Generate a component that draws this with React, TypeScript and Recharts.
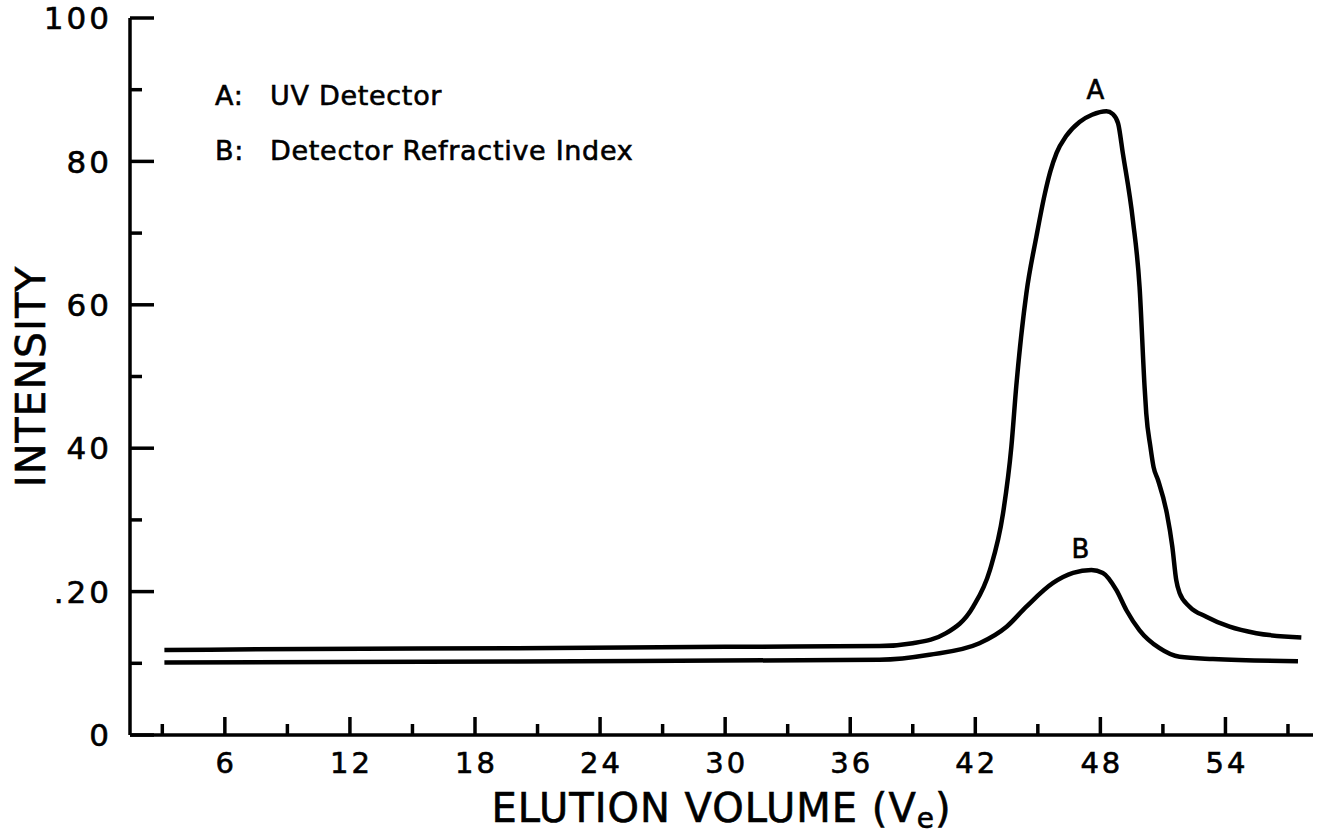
import React from 'react';
import { LineChart, Line, XAxis, YAxis, Legend, Label } from 'recharts';

// ---- data ----
const seriesKeys = ['A', 'B'];
const seriesNames = ['UV Detector', 'Detector Refractive Index'];

const uvVolume = [3.1, 10, 20, 30, 37.4, 39.0, 40.6, 41.9, 42.7, 43.33, 43.73, 43.97, 44.45, 44.93, 45.33, 45.6, 45.9, 46.35, 47.0, 47.6, 48.29, 48.6, 48.85, 49.08, 49.56, 49.88, 50.12, 50.2, 50.4, 50.55, 50.76, 51.19, 51.45, 51.64, 51.8, 52.28, 53.08, 54.2, 55.48, 57.64];
const uvIntensity = [11.85, 12.0, 12.1, 12.3, 12.4, 12.8, 14.2, 17.9, 23.0, 30.9, 40.2, 48.8, 61.6, 69.5, 75.4, 78.6, 81.2, 83.5, 85.5, 86.5, 87.0, 86.6, 85.3, 81.1, 71.8, 62.5, 48.6, 44.9, 40.2, 37.4, 35.6, 30.9, 26.3, 21.6, 19.8, 17.9, 16.5, 15.1, 14.2, 13.6];

const riVolume = [3.1, 20, 37.4, 39.8, 42.2, 43.5, 44.45, 45.73, 46.69, 47.57, 48.12, 48.77, 49.25, 49.88, 50.84, 51.8, 53.4, 57.48];
const riIntensity = [10.1, 10.25, 10.5, 11.2, 12.8, 15.1, 17.9, 21.2, 22.6, 23.0, 22.6, 20.2, 17.4, 14.6, 12.1, 10.9, 10.6, 10.3];

const xDomain = [1.45, 58.2];
const xTicks = [3, 6, 9, 12, 15, 18, 21, 24, 27, 30, 33, 36, 39, 42, 45, 48, 51, 54, 57];
const xLabelTicks = [6, 12, 18, 24, 30, 36, 42, 48, 54];
const xTickLabels = ['6', '12', '18', '24', '30', '36', '42', '48', '54'];

const yDomain = [0, 100];
const yTicks = [0, 10, 20, 30, 40, 50, 60, 70, 80, 90, 100];
const yLabelTicks = [0, 20, 40, 60, 80, 100];
const yTickLabels = ['0', '.20', '40', '60', '80', '100'];

const xTitle = 'ELUTION VOLUME (V';
const xTitleSub = 'e';
const yTitle = 'INTENSITY';

const uvData = uvVolume.map((v, i) => ({ volume: v, intensity: uvIntensity[i] }));
const riData = riVolume.map((v, i) => ({ volume: v, intensity: riIntensity[i] }));

const FONT = '"DejaVu Sans", Verdana, sans-serif';
const INK = '#000';
const PEN = 0.6;

const renderXTick = (props: any) => {
  const { x, y, payload } = props;
  const v = payload.value;
  const li = xLabelTicks.indexOf(v);
  const major = li >= 0;
  return (
    <g>
      <line x1={x} x2={x} y1={y} y2={y - (major ? 18 : 11)} stroke={INK} strokeWidth={3.5} />
      {major && (
        <text x={x} dx={1.5} y={y + 38} textAnchor="middle" fontFamily={FONT} fontSize={29} letterSpacing={3} fill={INK} stroke={INK} strokeWidth={PEN}>
          {xTickLabels[li]}
        </text>
      )}
    </g>
  );
};

const renderYTick = (props: any) => {
  const { x, y, payload } = props;
  const v = payload.value;
  const li = yLabelTicks.indexOf(v);
  const major = li >= 0;
  return (
    <g>
      <line x1={x} x2={x + (major ? 24 : 12)} y1={y} y2={y} stroke={INK} strokeWidth={3.5} />
      {major && (
        <text x={x - 18} y={y} dy="0.36em" textAnchor="end" fontFamily={FONT} fontSize={31} letterSpacing={3} fill={INK} stroke={INK} strokeWidth={PEN}>
          {yTickLabels[li]}
        </text>
      )}
    </g>
  );
};

const makePeakLabel = (values: number[], letter: string) => (props: any) => {
  const { x, y, index } = props;
  const peak = values.indexOf(Math.max(...values));
  if (index !== peak) return null;
  return (
    <text x={x - 11} y={y - 12} textAnchor="middle" fontFamily={FONT} fontSize={26} fill={INK} stroke={INK} strokeWidth={PEN}>
      {letter}
    </text>
  );
};

const renderLegend = () => (
  <div style={{ fontFamily: FONT, fontSize: 27, letterSpacing: 0.7, color: INK, lineHeight: '55px', WebkitTextStroke: `${PEN}px ${INK}` }}>
    {seriesKeys.map((k, i) => (
      <div key={k} style={{ display: 'flex', whiteSpace: 'nowrap', height: 55 }}>
        <span style={{ width: 55, display: 'inline-block' }}>{k}:</span>
        <span>{seriesNames[i]}</span>
      </div>
    ))}
  </div>
);

const renderYTitle = (props: any) => {
  const vb = props.viewBox;
  const cx = vb.x + 30;
  const cy = vb.y + vb.height / 2;
  return (
    <text x={cx} y={cy} dy="0.36em" textAnchor="middle" transform={`rotate(-90 ${cx} ${cy})`} fontFamily={FONT} fontSize={41} letterSpacing={1} fill={INK} stroke={INK} strokeWidth={PEN}>
      {yTitle}
    </text>
  );
};

const renderXTitle = (props: any) => {
  const vb = props.viewBox;
  const cx = vb.x + vb.width / 2;
  return (
    <text x={cx} y={vb.y + 87} textAnchor="middle" fontFamily={FONT} fontSize={40} letterSpacing={1} fill={INK} stroke={INK} strokeWidth={PEN}>
      <tspan>{xTitle}</tspan>
      <tspan fontSize={28} dy={6}>{xTitleSub}</tspan>
      <tspan dy={-6}>)</tspan>
    </text>
  );
};

export default function App() {
  return (
    <div style={{ position: 'absolute', left: 0, top: 0, background: '#fff' }}>
      <LineChart width={1322} height={835} margin={{ top: 18, right: 9, left: 0, bottom: 0 }}>
        <XAxis
          dataKey="volume"
          type="number"
          domain={xDomain}
          ticks={xTicks}
          interval={0}
          allowDataOverflow
          height={100}
          tickSize={0}
          tickMargin={0}
          tickLine={false}
          axisLine={{ stroke: INK, strokeWidth: 3.5 }}
          tick={renderXTick}
        >
          <Label content={renderXTitle} />
        </XAxis>
        <YAxis
          type="number"
          domain={yDomain}
          ticks={yTicks}
          interval={0}
          width={130}
          tickSize={0}
          tickMargin={0}
          tickLine={false}
          axisLine={{ stroke: INK, strokeWidth: 3.5 }}
          tick={renderYTick}
        >
          <Label content={renderYTitle} />
        </YAxis>
        <Legend
          layout="horizontal"
          verticalAlign="middle"
          align="center"
          content={renderLegend}
          wrapperStyle={{ left: 215, top: 68, width: 700, margin: 0, padding: 0 }}
        />
        <Line
          data={uvData}
          dataKey="intensity"
          name={seriesNames[0]}
          type="monotone"
          stroke={INK}
          strokeWidth={4.5}
          dot={false}
          activeDot={false}
          isAnimationActive={false}
          label={makePeakLabel(uvIntensity, seriesKeys[0])}
        />
        <Line
          data={riData}
          dataKey="intensity"
          name={seriesNames[1]}
          type="monotone"
          stroke={INK}
          strokeWidth={4.5}
          dot={false}
          activeDot={false}
          isAnimationActive={false}
          label={makePeakLabel(riIntensity, seriesKeys[1])}
        />
      </LineChart>
    </div>
  );
}
